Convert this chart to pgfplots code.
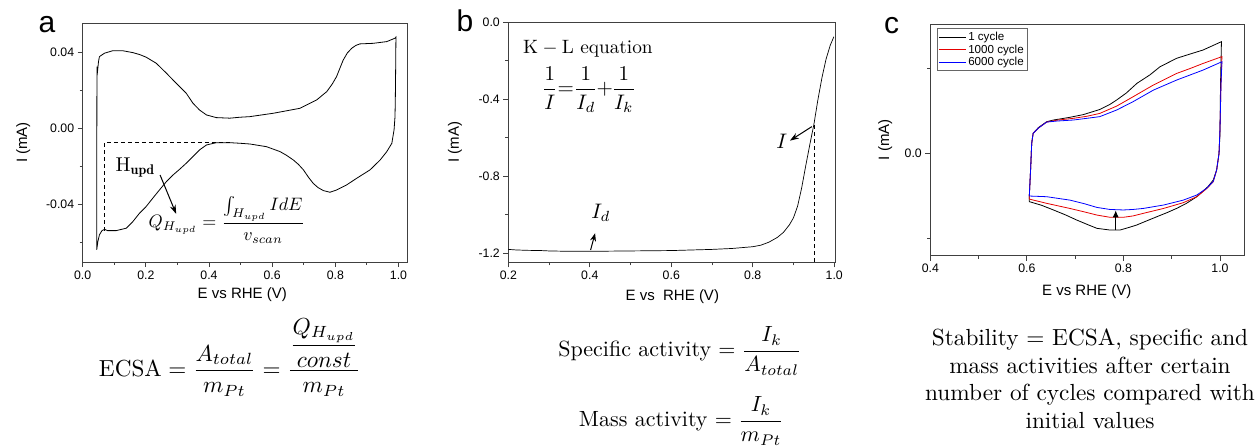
\RequirePackage{fix-cm}
\documentclass[border=0pt]{standalone}
\usepackage{amsmath}
\usepackage{graphicx}
\usepackage{fontspec}
\usepackage{pgfplots}
\pgfplotsset{compat=1.18}
\usetikzlibrary{arrows.meta}
\newfontfamily\arial{Liberation Sans}

\pgfplotsset{
  myaxis/.style={
    scale only axis, anchor=south west,
    axis line style={draw=black!75, line width=0.9pt},
    tick align=outside, xtick pos=bottom, ytick pos=left,
    major tick length=5pt, minor tick length=3pt,
    tick style={black!75, line width=0.8pt},
    tick label style={font=\arial\fontsize{12.3}{14}\selectfont},
    /pgf/number format/assume math mode=true,
    label style={font=\arial\fontsize{15}{18}\selectfont},
    scaled ticks=false,
    x tick label style={/pgf/number format/fixed, /pgf/number format/fixed zerofill, /pgf/number format/precision=1},
    clip=false,
  },
}

\begin{document}
\begin{tikzpicture}
\path[use as bounding box] (0pt,0pt) rectangle (1259pt,447pt);

% ---------------- panel a ----------------
\begin{axis}[myaxis, at={(82.7pt,185pt)}, width=324.3pt, height=239pt,
  xmin=0, xmax=1.027, ymin=-0.0704, ymax=0.0554,
  xtick={0,0.2,0.4,0.6,0.8,1.0}, minor xtick={0.1,0.3,0.5,0.7,0.9},
  ytick={-0.04,0,0.04}, minor ytick={-0.06,-0.02,0.02},
  y tick label style={/pgf/number format/fixed, /pgf/number format/fixed zerofill, /pgf/number format/precision=2},
  xlabel={E vs RHE (V)}, ylabel={I (mA)},
  xlabel style={at={(axis description cs:0.492,-0.137)}, anchor=center},
  ylabel style={at={(axis description cs:-0.183,0.5)}, anchor=center},
]
\addplot[black, line width=0.8pt] coordinates {
(0.0444,-0.064) (0.0446,-0.02) (0.045,0.02) (0.0455,0.0324) (0.047,0.030) (0.05,0.035) (0.053,0.0377) (0.069,0.0395) (0.095,0.0408) (0.127,0.0408) (0.159,0.0398) (0.18,0.0388) (0.201,0.0374) (0.233,0.0342) (0.265,0.029) (0.296,0.0237) (0.328,0.0184) (0.349,0.0132) (0.37,0.0096) (0.392,0.007) (0.423,0.0056) (0.466,0.0053) (0.498,0.0058) (0.529,0.0061) (0.604,0.0079) (0.688,0.0105) (0.741,0.0149) (0.773,0.0193) (0.79,0.0232) (0.804,0.0272) (0.815,0.0318) (0.825,0.0359) (0.838,0.0396) (0.852,0.0421) (0.865,0.0436) (0.878,0.0444) (0.92,0.0447) (0.963,0.0456) (0.989,0.0474) (0.992,0.048) (0.991,0.03) (0.99,0.015) (0.989,0.0061) (0.986,-0.0009) (0.979,-0.0079) (0.963,-0.0123) (0.942,-0.0167) (0.91,-0.0219) (0.868,-0.0263) (0.836,-0.0298) (0.804,-0.0325) (0.783,-0.0337) (0.762,-0.0328) (0.745,-0.0312) (0.73,-0.029) (0.715,-0.0258) (0.699,-0.0219) (0.683,-0.019) (0.667,-0.0167) (0.645,-0.0142) (0.625,-0.0123) (0.582,-0.0097) (0.53,-0.0083) (0.498,-0.0079) (0.466,-0.0076) (0.423,-0.0076) (0.392,-0.0088) (0.37,-0.0114) (0.349,-0.0149) (0.328,-0.0184) (0.307,-0.0216) (0.286,-0.0246) (0.265,-0.0281) (0.243,-0.0325) (0.222,-0.0368) (0.201,-0.0412) (0.18,-0.0447) (0.159,-0.0491) (0.138,-0.0526) (0.106,-0.0539) (0.079,-0.0539) (0.069,-0.0532) (0.061,-0.0539) (0.053,-0.0561) (0.048,-0.0597) (0.0444,-0.064)
};
\draw[black, line width=1pt, dash pattern=on 4pt off 3pt] (axis cs:0.069,-0.054) -- (axis cs:0.069,-0.0074) -- (axis cs:0.467,-0.0074);
\node[anchor=base west, inner sep=0pt] at (axis cs:0.104,-0.0228) {\scalebox{2.0}{$\mathrm{H}_{\mathbf{upd}}$}};
\draw[-{Stealth[length=9pt,width=6pt]}, line width=1pt] (axis cs:0.245,-0.0246) -- (axis cs:0.296,-0.0451);
\node[anchor=base, inner sep=0pt] at (axis cs:0.456,-0.0525) {\scalebox{1.8}{$Q_{H_{upd}} = \dfrac{\textstyle\int_{H_{upd}} IdE}{v_{scan}}$}};
\end{axis}

% ---------------- panel b ----------------
\begin{axis}[myaxis, at={(508.3pt,184.7pt)}, width=327.4pt, height=240pt,
  xmin=0.2, xmax=1.0035, ymin=-1.247, ymax=0.0,
  xtick={0.2,0.4,0.6,0.8,1.0}, minor xtick={0.3,0.5,0.7,0.9},
  ytick={-1.2,-0.8,-0.4,0}, minor ytick={-1.0,-0.6,-0.2},
  y tick label style={/pgf/number format/fixed, /pgf/number format/fixed zerofill, /pgf/number format/precision=1},
  xlabel={E vs~~RHE (V)}, ylabel={I (mA)},
  xlabel style={at={(axis description cs:0.501,-0.143)}, anchor=center},
  ylabel style={at={(axis description cs:-0.163,0.5)}, anchor=center},
]
\addplot[black, line width=0.7pt] coordinates {
(0.2,-1.180) (0.22,-1.183) (0.25,-1.185) (0.28,-1.186) (0.3,-1.188) (0.35,-1.190) (0.4,-1.190) (0.45,-1.189) (0.5,-1.188) (0.55,-1.187) (0.6,-1.186) (0.65,-1.183) (0.7,-1.180) (0.75,-1.175) (0.8,-1.166) (0.82,-1.158) (0.84,-1.142) (0.86,-1.118) (0.875,-1.092) (0.89,-1.052) (0.9,-1.015) (0.91,-0.955) (0.92,-0.86) (0.93,-0.745) (0.94,-0.635) (0.95,-0.53) (0.96,-0.40) (0.97,-0.285) (0.98,-0.19) (0.99,-0.12) (0.999,-0.075)
};
\draw[black, line width=1pt, dash pattern=on 4pt off 3pt] (axis cs:0.951,-0.534) -- (axis cs:0.951,-1.247);
\draw[-{Stealth[length=9pt,width=6pt]}, line width=1pt] (axis cs:0.945,-0.542) -- (axis cs:0.891,-0.615);
\node[inner sep=0pt] at (axis cs:0.871,-0.62) {\scalebox{2.1}{$I$}};
\draw[-{Stealth[length=8pt,width=6pt]}, line width=1pt] (axis cs:0.402,-1.183) -- (axis cs:0.413,-1.096);
\node[inner sep=0pt] at (axis cs:0.427,-0.99) {\scalebox{2.1}{$I_d$}};
\end{axis}

% ---------------- panel c ----------------
\begin{axis}[myaxis, at={(930.3pt,191.3pt)}, width=313.7pt, height=231.7pt,
  xmin=0.4, xmax=1.0497, ymin=-0.0602, ymax=0.0761,
  xtick={0.4,0.6,0.8,1.0}, minor xtick={0.5,0.7,0.9},
  ytick={-0.1,0,0.1}, minor ytick={-0.05,0.05},
  y tick label style={/pgf/number format/fixed, /pgf/number format/fixed zerofill, /pgf/number format/precision=1},
  xlabel={E vs RHE (V)}, ylabel={I (mA)},
  xlabel style={at={(axis description cs:0.4986,-0.155)}, anchor=center},
  ylabel style={at={(axis description cs:-0.144,0.5)}, anchor=center},
  legend style={at={(axis description cs:0.02,0.981)}, anchor=north west, draw=black!60, line width=0.8pt,
    font=\arial\fontsize{11.6}{13.8}\selectfont, inner sep=1.5pt, row sep=-1.5pt, cells={anchor=west}},
  legend image code/.code={\draw[#1] (0pt,0pt) -- (27pt,0pt);},
]
\addplot[black, line width=0.8pt] coordinates {
(0.605,-0.0284) (0.63,-0.0305) (0.655,-0.0333) (0.68,-0.0362) (0.703,-0.0392) (0.725,-0.0418) (0.745,-0.0441) (0.772,-0.0451) (0.793,-0.0451) (0.81,-0.0437) (0.827,-0.0422) (0.85,-0.0395) (0.869,-0.0373) (0.89,-0.0349) (0.91,-0.0324) (0.93,-0.0295) (0.952,-0.0255) (0.965,-0.0222) (0.975,-0.0196) (0.986,-0.0157) (0.993,-0.0098) (0.998,0) (1.0,0.0118) (1.001,0.04) (1.003,0.0657) (0.965,0.0608) (0.931,0.0578) (0.91,0.0559) (0.89,0.053) (0.876,0.051) (0.855,0.0462) (0.828,0.0412) (0.806,0.0355) (0.786,0.0314) (0.772,0.0288) (0.751,0.0258) (0.717,0.0228) (0.689,0.0212) (0.655,0.0196) (0.641,0.0186) (0.624,0.0152) (0.613,0.0118) (0.61,0.0059) (0.608,-0.0078) (0.605,-0.0255) (0.605,-0.0284)
};
\addlegendentry{1 cycle}
\addplot[red!90!black, line width=0.8pt] coordinates {
(0.605,-0.0269) (0.641,-0.0294) (0.689,-0.0324) (0.72,-0.0345) (0.745,-0.0363) (0.772,-0.0376) (0.8,-0.0376) (0.82,-0.0368) (0.841,-0.0353) (0.883,-0.0324) (0.924,-0.029) (0.952,-0.0255) (0.973,-0.0206) (0.986,-0.0167) (0.993,-0.0098) (0.998,0) (1.0,0.015) (1.002,0.04) (1.004,0.0569) (0.965,0.0529) (0.938,0.0499) (0.91,0.047) (0.862,0.0402) (0.82,0.0333) (0.786,0.0278) (0.751,0.0235) (0.724,0.0218) (0.696,0.0206) (0.662,0.0195) (0.641,0.0184) (0.624,0.0149) (0.613,0.0118) (0.61,0.0059) (0.608,-0.0078) (0.605,-0.0255) (0.605,-0.0269)
};
\addlegendentry{1000 cycle}
\addplot[blue, line width=0.8pt] coordinates {
(0.605,-0.0251) (0.641,-0.0255) (0.689,-0.0275) (0.72,-0.0297) (0.745,-0.0318) (0.772,-0.033) (0.8,-0.0333) (0.82,-0.0330) (0.841,-0.0324) (0.883,-0.0304) (0.924,-0.0275) (0.952,-0.0245) (0.972,-0.0206) (0.986,-0.0165) (0.993,-0.0098) (0.998,0) (1.0,0.015) (1.002,0.04) (1.004,0.0539) (0.965,0.049) (0.938,0.0461) (0.91,0.0431) (0.862,0.0372) (0.82,0.0304) (0.786,0.0255) (0.751,0.0216) (0.724,0.0206) (0.696,0.0196) (0.662,0.019) (0.641,0.0184) (0.624,0.0149) (0.613,0.0118) (0.61,0.0059) (0.608,-0.0078) (0.605,-0.0251)
};
\addlegendentry{6000 cycle}
\draw[-{Latex[length=7pt,width=6pt]}, line width=1pt] (axis cs:0.784,-0.0451) -- (axis cs:0.784,-0.0335);
\end{axis}

% panel letters
\node[font=\arial\fontsize{30}{30}\selectfont, inner sep=0pt] at (47pt,422pt) {a};
\node[font=\arial\fontsize{30}{30}\selectfont, inner sep=0pt] at (465pt,426.2pt) {b};
\node[font=\arial\fontsize{30}{30}\selectfont, inner sep=0pt] at (891.7pt,421.7pt) {c};

% K-L equation
\node[anchor=base west, inner sep=0pt] at (523pt,393.7pt) {\scalebox{1.93}{$\mathrm{K}-\mathrm{L}$ equation}};
\node[anchor=base, inner sep=0pt] at (589pt,352pt) {\scalebox{2.1}{$\nulldelimiterspace=0pt\dfrac{1}{I}\mkern2mu{=}\mkern2mu\dfrac{1}{I_d}\mkern1mu{+}\mkern1mu\dfrac{1}{I_k}$}};

% bottom equations
\node[anchor=base, inner sep=0pt] at (230pt,70.3pt) {\scalebox{2.32}{$\mathrm{ECSA}=\dfrac{A_{total}}{m_{Pt}}=\dfrac{\dfrac{Q_{H_{upd}}}{const}}{m_{Pt}}$}};
\node[anchor=base, inner sep=0pt] at (680pt,90.3pt) {\scalebox{2.2}{Specific activity $=\dfrac{I_k}{A_{total}}$}};
\node[anchor=base, inner sep=0pt] at (681.5pt,20.3pt) {\scalebox{2.2}{Mass activity $=\dfrac{I_k}{m_{Pt}}$}};
\node[inner sep=0pt] at (1090pt,65.5pt) {\scalebox{2.33}{\def\arraystretch{0.995}\begin{tabular}{@{}c@{}}Stability $=$ ECSA, specific and\\ mass activities after certain\\ number of cycles compared with\\ initial values\end{tabular}}};
\end{tikzpicture}
\end{document}
